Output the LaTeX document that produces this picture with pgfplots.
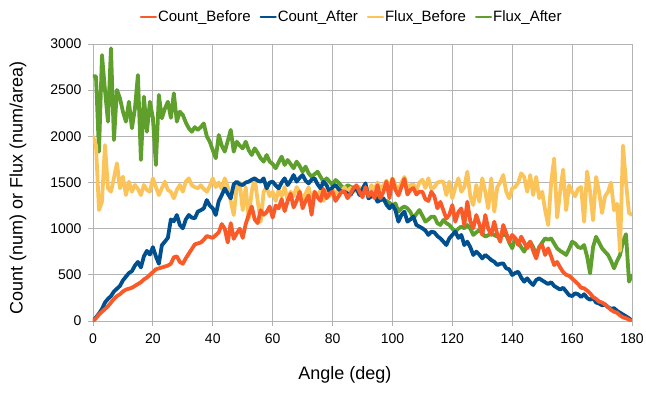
\documentclass[border=0pt]{standalone}
\usepackage{pgfplots}
\pgfplotsset{compat=1.18}
\usepackage{pgfplotstable}
\usepackage{fontspec}
\setmainfont{Liberation Sans}
\definecolor{cbcol}{HTML}{FA5A28}
\definecolor{cacol}{HTML}{005090}
\definecolor{fbcol}{HTML}{FBC45A}
\definecolor{facol}{HTML}{5FA02D}
\definecolor{gridgray}{HTML}{B3B3B3}
\pgfplotstableread{
angle cb ca fb fa
0 0 0 2000 2650
1 30 40 1900 2650
2 70 80 1202 1834
3 100 130 1292 2881
4 130 200 1906 2500
5 160 240 1437 2159
6 200 270 1400 2953
7 240 320 1550 1960
8 270 350 1708 2502
9 290 380 1437 2412
10 320 440 1563 2267
11 340 480 1364 2159
12 350 520 1509 2375
13 360 540 1400 2087
14 380 600 1473 2300
15 400 640 1430 2664
16 420 580 1364 1744
17 450 700 1473 2430
18 470 760 1420 2050
19 500 720 1400 2375
20 530 800 1545 2200
21 560 700 1450 1690
22 570 620 1364 2448
23 580 820 1440 2195
24 590 860 1509 2300
25 600 900 1420 2375
26 620 1100 1400 2200
27 690 1080 1328 2466
28 700 1148 1420 2159
29 640 1040 1473 2267
30 620 1004 1400 2231
31 680 1100 1510 2150
32 730 1148 1545 2087
33 780 1120 1470 2050
34 830 1112 1450 2100
35 840 1184 1437 2070
36 850 1200 1470 2100
37 880 1220 1430 2140
38 920 1310 1400 2000
39 910 1250 1460 1942
40 900 1220 1545 1850
41 930 1148 1450 1762
42 960 1300 1500 2015
43 1050 1364 1430 1900
44 1000 1436 1545 1834
45 850 1380 1450 1950
46 1060 1328 1300 2070
47 890 1480 1148 1834
48 950 1509 1450 1942
49 1000 1480 1500 1900
50 900 1473 1200 1870
51 1050 1500 1450 1942
52 1150 1509 1110 1850
53 1240 1530 1400 1798
54 1100 1545 1545 1870
55 1060 1520 1300 1820
56 1200 1509 1075 1762
57 1150 1545 1400 1726
58 1180 1437 1450 1798
59 1240 1500 1350 1726
60 1120 1509 1400 1700
61 1250 1470 1300 1654
62 1220 1437 1420 1720
63 1320 1500 1350 1780
64 1190 1545 1450 1690
65 1300 1473 1300 1744
66 1380 1520 1400 1700
67 1230 1581 1350 1654
68 1300 1509 1450 1726
69 1400 1550 1400 1680
70 1220 1581 1320 1617
71 1300 1520 1380 1672
72 1360 1491 1450 1600
73 1150 1530 1300 1563
74 1400 1545 1400 1590
75 1340 1480 1350 1617
76 1300 1437 1420 1560
77 1430 1509 1300 1509
78 1330 1470 1400 1545
79 1380 1400 1350 1510
80 1400 1450 1430 1473
81 1300 1473 1380 1527
82 1350 1430 1420 1500
83 1400 1400 1400 1460
84 1400 1400 1450 1437
85 1330 1380 1400 1470
86 1380 1364 1440 1455
87 1440 1420 1400 1440
88 1470 1437 1420 1437
89 1400 1364 1450 1440
90 1340 1430 1400 1400
91 1450 1491 1440 1390
92 1350 1328 1400 1380
93 1400 1350 1470 1360
94 1330 1364 1420 1350
95 1470 1292 1500 1340
96 1330 1310 1430 1330
97 1400 1328 1470 1310
98 1510 1260 1520 1300
99 1330 1220 1440 1280
100 1540 1256 1545 1250
101 1420 1200 1470 1274
102 1360 1076 1420 1184
103 1450 1150 1500 1220
104 1540 1184 1560 1240
105 1370 1076 1440 1220
106 1420 1100 1470 1180
107 1440 1130 1480 1112
108 1370 1040 1420 1160
109 1400 1022 1500 1202
110 1400 1004 1530 1140
111 1320 980 1440 1076
112 1300 932 1545 1100
113 1400 968 1430 1130
114 1350 960 1450 1130
115 1220 920 1500 1060
116 1290 895 1510 1040
117 1200 860 1509 1094
118 1110 823 1364 1060
119 1150 895 1509 1040
120 1256 932 1328 1000
121 1076 968 1450 968
122 1180 900 1545 1000
123 1220 932 1400 1022
124 1040 823 1450 1004
125 1292 859 1617 1040
126 1080 800 1350 1000
127 1004 715 1256 932
128 1148 751 1473 960
129 1050 720 1292 986
130 932 678 1545 950
131 1148 715 1400 914
132 1000 690 1220 930
133 932 660 1545 950
134 1076 642 1184 930
135 940 606 1450 914
136 859 620 1500 920
137 1040 624 1581 932
138 950 570 1400 932
139 859 560 1328 850
140 932 498 1437 787
141 900 520 1450 895
142 823 534 1500 850
143 914 470 1599 800
144 850 426 1560 751
145 787 462 1400 820
146 859 420 1581 859
147 760 390 1364 800
148 678 444 1560 715
149 800 462 1330 800
150 823 440 1400 850
151 715 420 1200 895
152 787 400 1040 880
153 700 420 1500 895
154 606 380 1760 840
155 640 360 1120 787
156 580 340 1400 760
157 530 360 1640 740
158 500 320 1200 715
159 490 280 1470 780
160 460 270 1400 859
161 430 300 1350 840
162 400 290 1430 800
163 360 260 1450 790
164 354 290 1075 823
165 330 250 1620 700
166 300 230 1400 516
167 260 250 1090 800
168 240 200 1560 913
169 210 190 1400 850
170 200 170 1170 787
171 180 180 1350 750
172 150 150 1400 715
173 120 130 1500 650
174 100 140 1200 570
175 90 110 1270 650
176 60 90 760 715
177 40 70 1900 860
178 30 50 1500 940
179 15 30 1170 426
180 0 0 1150 498
}\datatable
\begin{document}
\begin{tikzpicture}
\useasboundingbox (-93pt,-71pt) rectangle (553pt,321pt);
\begin{axis}[
  scale only axis, width=539pt, height=277pt,
  xmin=0, xmax=180, ymin=0, ymax=3000,
  xtick={0,20,...,180}, ytick={0,500,...,3000},
  grid=major, grid style={gridgray, line width=0.8pt},
  axis line style={gridgray, line width=0.8pt},
  tick style={gridgray, line width=0.8pt},
  tick align=outside, tick pos=left, major tick length=5pt,
  tick label style={font=\fontsize{14}{16}\selectfont, black},
  xticklabel style={yshift=-4pt},
  yticklabel style={xshift=-3pt},
  /pgf/number format/assume math mode=true,
  /pgf/number format/1000 sep={},
  xlabel={Angle (deg)},
  ylabel={Count (num) or Flux (num/area)},
  label style={font=\fontsize{18}{21}\selectfont},
  xlabel style={at={(axis description cs:0.4675,-0.195)}, anchor=center},
  ylabel style={at={(axis description cs:-0.139,0.48)}, anchor=center},
  legend columns=4,
  legend style={at={(axis description cs:0.479,1.097)}, anchor=center, draw=none, fill=none,
    font=\fontsize{15}{18}\selectfont, inner sep=0pt,
    /tikz/every even column/.append style={column sep=8pt},
    nodes={inner sep=1pt}},
  legend image code/.code={\draw[#1, line width=2.2pt] (0pt,0pt) -- (15pt,0pt);},
  every axis plot/.append style={line width=3.8pt, line join=round, line cap=round},
]
\addlegendimage{cbcol}\addlegendentry{Count\_Before}
\addlegendimage{cacol}\addlegendentry{Count\_After}
\addlegendimage{fbcol}\addlegendentry{Flux\_Before}
\addlegendimage{facol}\addlegendentry{Flux\_After}
\addplot[facol, forget plot] table[x=angle, y=fa] {\datatable};
\addplot[fbcol, forget plot] table[x=angle, y=fb] {\datatable};
\addplot[cacol, forget plot] table[x=angle, y=ca] {\datatable};
\addplot[cbcol, forget plot] table[x=angle, y=cb] {\datatable};
\end{axis}
\end{tikzpicture}
\end{document}
